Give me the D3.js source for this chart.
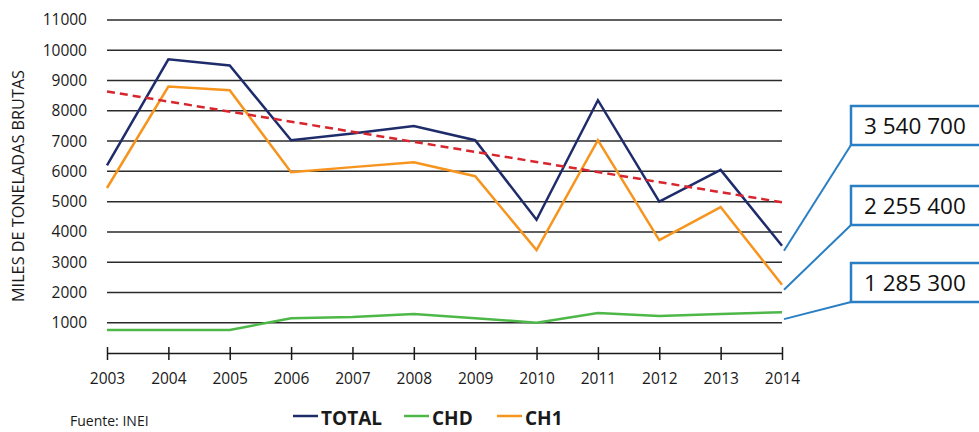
<!DOCTYPE html>
<html><head><meta charset="utf-8">
<script src="https://cdn.jsdelivr.net/npm/d3@7"></script>
<style>body{margin:0;background:#fff;} svg{display:block;font-family:"Open Sans",sans-serif;}</style>
</head><body>
<svg id="c" width="979" height="432"></svg>
<script>
const years = [2003,2004,2005,2006,2007,2008,2009,2010,2011,2012,2013,2014];
const total = [6200,9700,9500,7030,7250,7500,7030,4400,8350,5000,6050,3540];
const ch1   = [5450,8800,8680,5970,6140,6300,5840,3400,7030,3730,4820,2255];
const chd   = [760,760,760,1150,1190,1290,1150,1000,1320,1220,1290,1350];
const trendYears = [2003,2014];
const trendValues = [8640,4980];
const yTicks = [1000,2000,3000,4000,5000,6000,7000,8000,9000,10000,11000];
const callouts = ["3 540 700","2 255 400","1 285 300"];
const calloutValues = [3540,2255,1285];
const legendNames = ["TOTAL","CHD","CH1"];
const colors = {TOTAL:"#1f2c6b", CHD:"#4db848", CH1:"#f7941d", trend:"#d7262e"};

const svg = d3.select("#c");
const x = d3.scalePoint().domain(years).range([107,782]);
const y = d3.scaleLinear().domain([0,11000]).range([353,20]);

// gridlines
svg.append("g").selectAll("line").data(yTicks).join("line")
  .attr("x1",107).attr("x2",782).attr("y1",d=>y(d)).attr("y2",d=>y(d))
  .attr("stroke","#2b2b2b").attr("stroke-width",1.5);

// y labels
svg.append("g").selectAll("text").data(yTicks).join("text")
  .attr("x",87).attr("y",d=>y(d)).attr("dy","0.35em").attr("text-anchor","end")
  .attr("font-size",15.5).attr("fill","#1a1a1a").text(d=>d);

// x axis
const xAxis = d3.axisBottom(x).tickSizeInner(6).tickSizeOuter(0).tickPadding(14);
const gx = svg.append("g").attr("transform","translate(0,353)").call(xAxis);
gx.select(".domain").attr("stroke","#1a1a1a").attr("stroke-width",1.5);
gx.selectAll(".tick line").attr("y1",-6).attr("y2",7).attr("stroke","#1a1a1a").attr("stroke-width",1.5);
gx.selectAll(".tick text").attr("font-size",15.5).attr("font-family","Open Sans, sans-serif").attr("fill","#1a1a1a");

// y title
svg.append("text").attr("transform","translate(24,186) rotate(-90)")
  .attr("text-anchor","middle").attr("font-size",16.5).attr("fill","#1a1a1a")
  .attr("textLength",232).attr("lengthAdjust","spacingAndGlyphs")
  .text("MILES DE TONELADAS BRUTAS");

const line = d3.line().x((d,i)=>x(years[i])).y(d=>y(d));
svg.append("path").datum(chd).attr("d",line).attr("fill","none").attr("stroke",colors.CHD).attr("stroke-width",2.5);
svg.append("path").datum(ch1).attr("d",line).attr("fill","none").attr("stroke",colors.CH1).attr("stroke-width",2.5);
svg.append("path").datum(total).attr("d",line).attr("fill","none").attr("stroke",colors.TOTAL).attr("stroke-width",2.5);

const tline = d3.line().x((d,i)=>x(trendYears[i])).y(d=>y(d));
svg.append("path").datum(trendValues).attr("d",tline).attr("fill","none")
  .attr("stroke",colors.trend).attr("stroke-width",2.5).attr("stroke-dasharray","8,5");

// callouts
const boxTops = [106,186,263];
const blue = "#2a7fc4";
callouts.forEach((t,i)=>{
  const bx = 851, by = boxTops[i], bh = 39;
  svg.append("line").attr("x1",x(2014)+2).attr("y1",y(calloutValues[i])+5)
    .attr("x2",bx).attr("y2",by+bh).attr("stroke",blue).attr("stroke-width",2);
  svg.append("rect").attr("x",bx).attr("y",by).attr("width",140).attr("height",bh)
    .attr("fill","#fff").attr("stroke",blue).attr("stroke-width",2.5);
  svg.append("text").attr("x",bx+13).attr("y",by+bh/2).attr("dy","0.36em")
    .attr("font-size",22.5).attr("fill","#111").text(t);
});

// legend
const legX = [293,404,497];
legendNames.forEach((n,i)=>{
  svg.append("line").attr("x1",legX[i]).attr("x2",legX[i]+25).attr("y1",416).attr("y2",416)
    .attr("stroke",colors[n]).attr("stroke-width",2.5);
  svg.append("text").attr("x",legX[i]+28).attr("y",425).attr("font-size",19).attr("font-weight","bold")
    .attr("fill","#1a1a1a").text(n);
});
svg.append("text").attr("x",70).attr("y",426).attr("font-size",14).attr("fill","#1a1a1a").text("Fuente: INEI");
</script>
</body></html>
